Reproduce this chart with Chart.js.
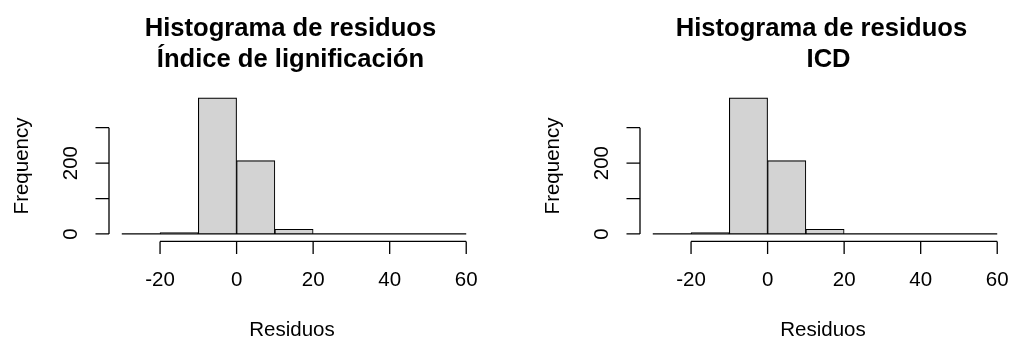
<!DOCTYPE html>
<html>
<head>
<meta charset="utf-8">
<script src="https://cdn.jsdelivr.net/npm/chart.js@4"></script>
<style>
  html, body { margin: 0; padding: 0; background: #fff; overflow: hidden; }
  body { width: 1009px; height: 343px; position: relative; }
  .panel { position: absolute; top: 0; width: 505px; height: 343px; }
  #panelLeft { left: 0; }
  #panelRight { left: 531px; }
</style>
</head>
<body>
<div class="panel" id="panelLeft"><canvas id="chartLeft"></canvas></div>
<div class="panel" id="panelRight"><canvas id="chartRight"></canvas></div>
<script>
// histogram data (bins of width 10)
const binEdges = [-30, -20, -10, 0, 10, 20, 30, 40, 50, 60];
const countsLignificacion = [0, 4, 384, 207, 13, 0, 0, 0, 0];
const countsICD = [0, 4, 384, 207, 13, 0, 0, 0, 0];

const xTicks = [-20, 0, 20, 40, 60];
const yTicks = [0, 100, 200, 300];
const yTickLabels = ["0", "", "200", ""];

const titleLeft = ["Histograma de residuos ", "Índice de lignificación "];
const titleRight = ["Histograma de residuos ", " ICD"];
const xLabel = "Residuos";
const yLabel = "Frequency";

const FONT = "'Liberation Sans', Arial, sans-serif";

// R style axes, titles and the zero-height bins
const rStylePlugin = {
  id: "rStyle",
  afterDatasetsDraw(chart, args, opts) {
    const ctx = chart.ctx;
    const xs = chart.scales.x;
    const ys = chart.scales.y;
    const area = chart.chartArea;
    const midX = (area.left + area.right) / 2;
    const midY = (area.top + area.bottom) / 2;

    ctx.save();
    ctx.strokeStyle = "#000";
    ctx.lineWidth = 1.3;

    // empty bins are drawn as a flat line along zero
    const y0 = ys.getPixelForValue(0);
    ctx.beginPath();
    ctx.moveTo(xs.getPixelForValue(binEdges[0]), y0);
    ctx.lineTo(xs.getPixelForValue(binEdges[binEdges.length - 1]), y0);
    ctx.stroke();

    // x axis
    const axisY = area.bottom + 2;
    ctx.beginPath();
    ctx.moveTo(xs.getPixelForValue(xTicks[0]), axisY);
    ctx.lineTo(xs.getPixelForValue(xTicks[xTicks.length - 1]), axisY);
    xTicks.forEach(t => {
      const px = xs.getPixelForValue(t);
      ctx.moveTo(px, axisY);
      ctx.lineTo(px, axisY + 12.7);
    });
    ctx.stroke();

    // y axis
    const axisX = area.left + 1;
    ctx.beginPath();
    ctx.moveTo(axisX, ys.getPixelForValue(yTicks[0]));
    ctx.lineTo(axisX, ys.getPixelForValue(yTicks[yTicks.length - 1]));
    yTicks.forEach(t => {
      const py = ys.getPixelForValue(t);
      ctx.moveTo(axisX, py);
      ctx.lineTo(axisX - 13.5, py);
    });
    ctx.stroke();

    ctx.fillStyle = "#000";
    ctx.font = "20.5px " + FONT;
    ctx.textAlign = "center";
    ctx.textBaseline = "middle";

    xTicks.forEach(t => {
      ctx.fillText(String(t), xs.getPixelForValue(t), axisY + 38.6);
    });

    yTicks.forEach((t, i) => {
      if(yTickLabels[i] === "") return;
      ctx.save();
      ctx.translate(axisX - 37.5, ys.getPixelForValue(t));
      ctx.rotate(-Math.PI / 2);
      ctx.fillText(yTickLabels[i], 0, 0);
      ctx.restore();
    });

    ctx.fillText(xLabel, midX - 2, area.bottom + 91);

    ctx.save();
    ctx.translate(22, midY);
    ctx.rotate(-Math.PI / 2);
    ctx.fillText(yLabel, 0, 0);
    ctx.restore();

    // title, two lines
    ctx.font = "bold 25.6px " + FONT;
    ctx.textBaseline = "alphabetic";
    opts.lines.forEach((line, i) => {
      ctx.fillText(line, midX, 36 + i * 30.7);
    });

    ctx.restore();
  }
};

function makeHistogram(canvasId, counts, titleLines){
  const points = counts.map((c, i) => ({
    x: (binEdges[i] + binEdges[i + 1]) / 2,
    y: c
  }));
  const xMin = binEdges[0], xMax = binEdges[binEdges.length - 1];
  const xPad = (xMax - xMin) * 0.04;
  const yMax = Math.max(...counts);

  return new Chart(document.getElementById(canvasId), {
    type: "bar",
    data: {
      datasets: [{
        data: points,
        backgroundColor: "#d3d3d3",
        borderColor: "#000",
        borderWidth: 1.1,
        borderSkipped: "start",
        barPercentage: 1,
        categoryPercentage: 1
      }]
    },
    options: {
      responsive: true,
      maintainAspectRatio: false,
      animation: false,
      layout: {
        padding: { left: 108, right: 25, top: 92.5, bottom: 103.6 }
      },
      scales: {
        x: {
          type: "linear",
          offset: false,
          min: xMin - xPad,
          max: xMax + xPad,
          display: false
        },
        y: {
          min: -yMax * 0.04,
          max: yMax * 1.04,
          display: false
        }
      },
      plugins: {
        legend: { display: false },
        tooltip: { enabled: false },
        rStyle: { lines: titleLines }
      }
    },
    plugins: [rStylePlugin]
  });
}

makeHistogram("chartLeft", countsLignificacion, titleLeft);
makeHistogram("chartRight", countsICD, titleRight);
</script>
</body>
</html>
